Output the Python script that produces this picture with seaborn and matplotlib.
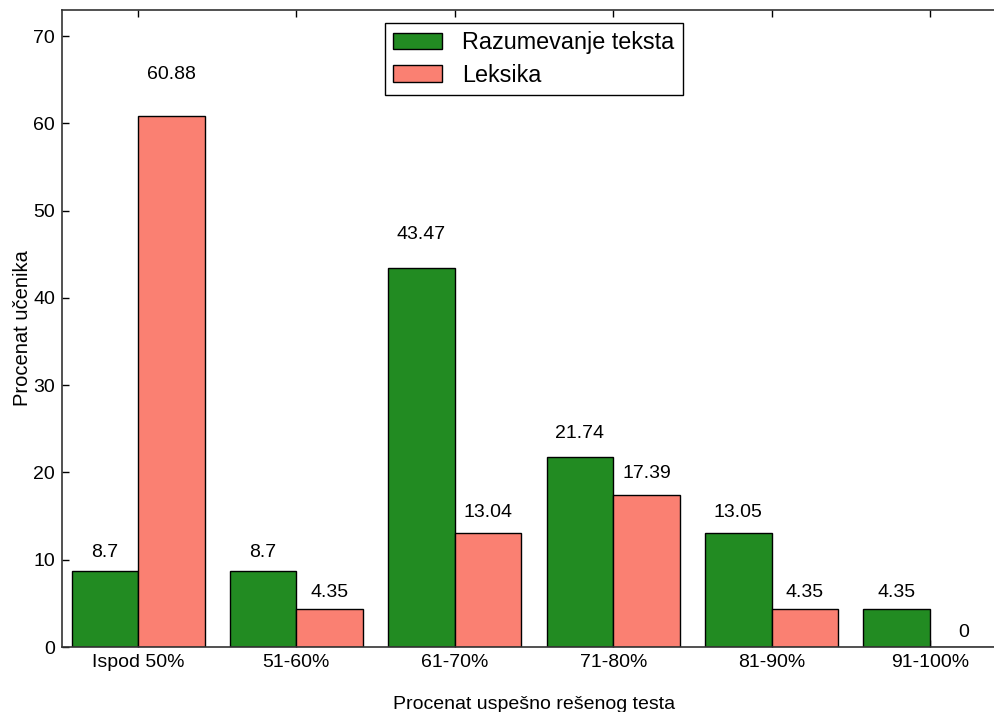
import pandas as pd
import matplotlib
matplotlib.use("Agg")
import matplotlib.pyplot as plt
import seaborn as sns

# podaci sa grafika
kategorije = ['Ispod 50%', '51-60%', '61-70%', '71-80%', '81-90%', '91-100%']
razumevanje = [8.7, 8.7, 43.47, 21.74, 13.05, 4.35]
leksika = [60.88, 4.35, 13.04, 17.39, 4.35, 0]
serije = ['Razumevanje teksta', 'Leksika']
boje = ['#228B22', '#FA8072']

df = pd.DataFrame({
    'kategorija': kategorije * 2,
    'test': [serije[0]] * len(kategorije) + [serije[1]] * len(kategorije),
    'procenat': razumevanje + leksika,
})

sns.set_style('ticks')
plt.rcParams['font.family'] = ['Liberation Sans', 'DejaVu Sans']
plt.rcParams['text.color'] = 'black'
plt.rcParams['axes.labelcolor'] = 'black'
plt.rcParams['xtick.color'] = 'black'
plt.rcParams['ytick.color'] = 'black'
plt.rcParams['xtick.direction'] = 'in'
plt.rcParams['ytick.direction'] = 'in'
plt.rcParams['xtick.top'] = True
plt.rcParams['ytick.right'] = True

fig = plt.figure(figsize=(9.95, 7.12), dpi=100)
# desna ivica ose izlazi malo van slike, kao na originalu
ax = fig.add_axes([62 / 995, 65 / 712, 944 / 995, 637 / 712])

sns.barplot(data=df, x='kategorija', y='procenat', hue='test',
            palette=boje, width=0.84, edgecolor='black', linewidth=1,
            saturation=1, ax=ax)

# vrednosti iznad stubova
for cont in ax.containers:
    for bar in cont:
        h = bar.get_height()
        ax.text(bar.get_x() + bar.get_width() / 2, h * 1.05 + 0.7,
                f'{h:g}', ha='center', va='bottom', fontsize=14)

ax.set_xlim(-0.48, 5.48)
ax.set_ylim(0, 73)
ax.set_yticks(range(0, 80, 10))
ax.tick_params(axis='both', length=5, width=1, labelsize=14, pad=5)
for s in ax.spines.values():
    s.set_color('#333333')
    s.set_linewidth(1.2)

ax.set_xlabel('Procenat uspešno rešenog testa', fontsize=14, labelpad=18)
ax.set_ylabel('Procenat učenika', fontsize=14.5, labelpad=1)

ax.legend(loc='upper center', bbox_to_anchor=(0.5, 1 - 13 / 637),
          borderaxespad=0, fontsize=16.8, fancybox=False,
          edgecolor='black', framealpha=1, handlelength=2.1, handleheight=0.7,
          borderpad=0.35, labelspacing=0.4, handletextpad=0.85)
ax.get_legend().get_frame().set_linewidth(1)

fig.savefig('out.png', dpi=100)
